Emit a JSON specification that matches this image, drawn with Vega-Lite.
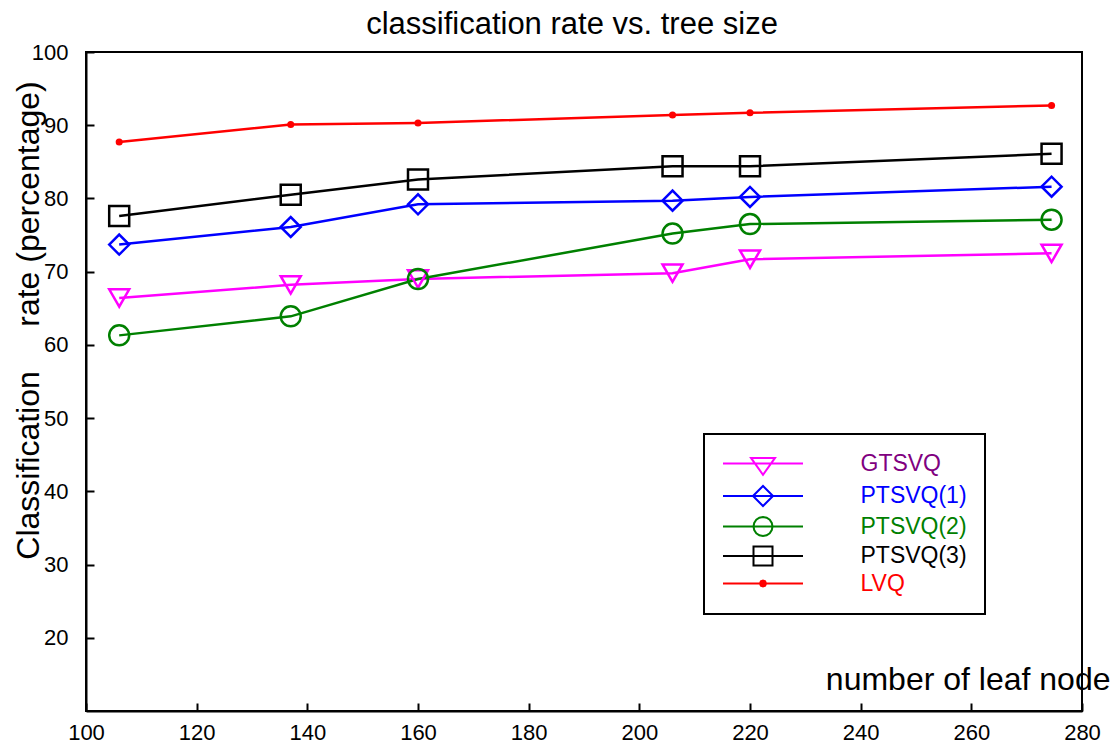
{
  "$schema": "https://vega.github.io/schema/vega-lite/v6.json",
  "width": 996,
  "height": 659,
  "autosize": {"type": "none"},
  "padding": {"left": 86, "top": 52, "right": 35, "bottom": 37},
  "background": "white",
  "config": {
    "font": "Liberation Sans",
    "view": {"stroke": "black", "strokeWidth": 2}
  },
  "title": {
    "text": "classification rate vs. tree size",
    "fontSize": 31,
    "fontWeight": "normal",
    "color": "black",
    "dx": -12,
    "dy": 4
  },
  "data": {
    "values": [
      {"series": "GTSVQ", "x": 106, "y": 66.4},
      {"series": "GTSVQ", "x": 137, "y": 68.2},
      {"series": "GTSVQ", "x": 160, "y": 69.0},
      {"series": "GTSVQ", "x": 206, "y": 69.8},
      {"series": "GTSVQ", "x": 220, "y": 71.7},
      {"series": "GTSVQ", "x": 274.5, "y": 72.5},
      {"series": "PTSVQ(1)", "x": 106, "y": 73.7},
      {"series": "PTSVQ(1)", "x": 137, "y": 76.1},
      {"series": "PTSVQ(1)", "x": 160, "y": 79.2},
      {"series": "PTSVQ(1)", "x": 206, "y": 79.7},
      {"series": "PTSVQ(1)", "x": 220, "y": 80.2},
      {"series": "PTSVQ(1)", "x": 274.5, "y": 81.6},
      {"series": "PTSVQ(2)", "x": 106, "y": 61.3},
      {"series": "PTSVQ(2)", "x": 137, "y": 63.9},
      {"series": "PTSVQ(2)", "x": 160, "y": 69.0},
      {"series": "PTSVQ(2)", "x": 206, "y": 75.2},
      {"series": "PTSVQ(2)", "x": 220, "y": 76.5},
      {"series": "PTSVQ(2)", "x": 274.5, "y": 77.1},
      {"series": "PTSVQ(3)", "x": 106, "y": 77.6},
      {"series": "PTSVQ(3)", "x": 137, "y": 80.5},
      {"series": "PTSVQ(3)", "x": 160, "y": 82.6},
      {"series": "PTSVQ(3)", "x": 206, "y": 84.4},
      {"series": "PTSVQ(3)", "x": 220, "y": 84.4},
      {"series": "PTSVQ(3)", "x": 274.5, "y": 86.1},
      {"series": "LVQ", "x": 106, "y": 87.7},
      {"series": "LVQ", "x": 137, "y": 90.1},
      {"series": "LVQ", "x": 160, "y": 90.3},
      {"series": "LVQ", "x": 206, "y": 91.4},
      {"series": "LVQ", "x": 220, "y": 91.7},
      {"series": "LVQ", "x": 274.5, "y": 92.7}
    ]
  },
  "encoding": {
    "x": {
      "field": "x",
      "type": "quantitative",
      "scale": {"domain": [100, 280], "nice": false, "zero": false},
      "axis": {
        "title": "number of leaf node",
        "values": [100, 120, 140, 160, 180, 200, 220, 240, 260, 280],
        "grid": false,
        "domainColor": "black",
        "domainWidth": 2,
        "tickColor": "black",
        "tickWidth": 2,
        "tickSize": -8,
        "labelFontSize": 22,
        "labelColor": "black",
        "labelPadding": 19,
        "labelFlush": false,
        "labelOverlap": false,
        "titleFontSize": 32,
        "titleFontWeight": "normal",
        "titleColor": "black",
        "titleX": 1024,
        "titleY": -22,
        "titleAlign": "right",
        "titleBaseline": "alphabetic"
      }
    },
    "y": {
      "field": "y",
      "type": "quantitative",
      "scale": {"domain": [10, 100], "nice": false, "zero": false},
      "axis": {
        "title": "Classification\u00a0\u00a0\u00a0\u00a0\u00a0rate (percentage)",
        "values": [20, 30, 40, 50, 60, 70, 80, 90, 100],
        "grid": false,
        "domainColor": "black",
        "domainWidth": 2,
        "tickColor": "black",
        "tickWidth": 2,
        "tickSize": -8,
        "labelFontSize": 22,
        "labelColor": "black",
        "labelPadding": 26,
        "labelFlush": false,
        "labelOverlap": false,
        "titleFontSize": 32,
        "titleFontWeight": "normal",
        "titleColor": "black",
        "titleAngle": 270,
        "titleX": -48,
        "titleY": 268,
        "titleAlign": "center",
        "titleBaseline": "alphabetic"
      }
    }
  },
  "layer": [
    {
      "mark": {"type": "line", "strokeWidth": 2.5},
      "encoding": {
        "color": {
          "field": "series",
          "type": "nominal",
          "scale": {
            "domain": ["GTSVQ", "PTSVQ(1)", "PTSVQ(2)", "PTSVQ(3)", "LVQ"],
            "range": ["#ff00ff", "#0000ff", "#008000", "#000000", "#ff0000"]
          },
          "legend": {
            "orient": "bottom-right",
            "offset": 97,
            "title": null,
            "padding": 18,
            "strokeColor": "black",
            "fillColor": "white",
            "rowPadding": 2.5,
            "labelFontSize": 23,
            "labelOffset": 86,
            "symbolOffset": 29.5,
            "symbolSize": 400,
            "symbolStrokeWidth": 2,
            "symbolOpacity": 1,
            "labelLimit": 300,
            "labelExpr": "datum.label + '\u00a0\u00a0\u00a0\u00a0\u00a0\u00a0'",
            "encode": {
              "legend": {"update": {"strokeWidth": {"value": 2}}},
              "symbols": {
                "update": {
                  "shape": {"signal": "datum.value === 'GTSVQ' ? 'M-4,0H4M-1.2,-0.56L1.2,-0.56L0,1.13Z' : datum.value === 'PTSVQ(1)' ? 'M-4,0H4M-1,0L0,-1L1,0L0,1Z' : datum.value === 'PTSVQ(2)' ? 'M-4,0H4M0.95,0L0.878,0.364L0.672,0.672L0.364,0.878L0,0.95L-0.364,0.878L-0.672,0.672L-0.878,0.364L-0.95,0L-0.878,-0.364L-0.672,-0.672L-0.364,-0.878L0,-0.95L0.364,-0.878L0.672,-0.672L0.878,-0.364Z' : datum.value === 'PTSVQ(3)' ? 'M-4,0H4M-0.95,-0.95H0.95V0.95H-0.95Z' : 'M-4,0H4M0.3,0L0.212,0.212L0,0.3L-0.212,0.212L-0.3,0L-0.212,-0.212L0,-0.3L0.212,-0.212Z'"},
                  "fill": {"signal": "datum.value === 'LVQ' ? '#ff0000' : 'transparent'"},
                  "size": {"value": 400},
                  "strokeWidth": {"value": 2}
                }
              },
              "labels": {
                "update": {
                  "fill": {"signal": "datum.value === 'GTSVQ' ? '#800080' : datum.value === 'PTSVQ(1)' ? '#0000ff' : datum.value === 'PTSVQ(2)' ? '#008000' : datum.value === 'LVQ' ? '#ff0000' : '#000000'"}
                }
              }
            }
          }
        }
      }
    },
    {
      "transform": [{"filter": "datum.series !== 'LVQ'"}],
      "mark": {"type": "point", "strokeWidth": 2.5, "opacity": 1, "size": 400, "filled": false},
      "encoding": {
        "stroke": {
          "field": "series",
          "type": "nominal",
          "scale": {
            "domain": ["GTSVQ", "PTSVQ(1)", "PTSVQ(2)", "PTSVQ(3)"],
            "range": ["#ff00ff", "#0000ff", "#008000", "#000000"]
          },
          "legend": null
        },
        "shape": {
          "field": "series",
          "type": "nominal",
          "scale": {
            "domain": ["GTSVQ", "PTSVQ(1)", "PTSVQ(2)", "PTSVQ(3)"],
            "range": ["triangle-down", "diamond", "circle", "square"]
          },
          "legend": null
        }
      }
    },
    {
      "transform": [{"filter": "datum.series === 'LVQ'"}],
      "mark": {"type": "circle", "size": 50, "opacity": 1, "color": "#ff0000"},
      "encoding": {}
    }
  ]
}
